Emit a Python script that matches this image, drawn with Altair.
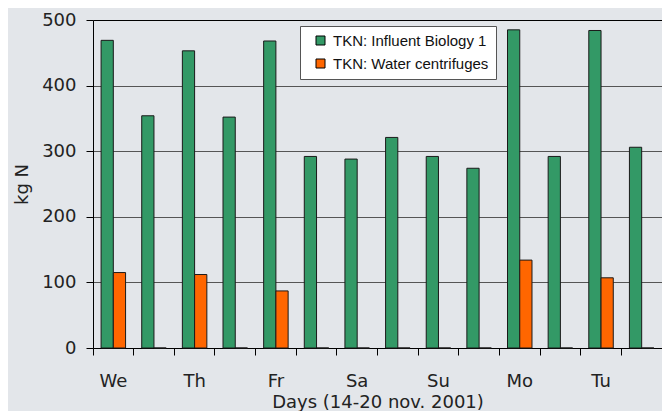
import altair as alt
import pandas as pd

days = ["We", "Th", "Fr", "Sa", "Su", "Mo", "Tu"]
slots = [f"{d}-{i}" for d in days for i in (1, 2)]
influent = [469, 354, 453, 352, 468, 292, 288, 321, 292, 274, 485, 292, 484, 306]
centrifuge = [115, 0, 112, 0, 87, 0, 0, 0, 0, 0, 134, 0, 107, 0]
series = ["TKN: Influent Biology 1", "TKN: Water centrifuges"]
colors = ["#339966", "#FF6600"]

rows = []
for s, a, b in zip(slots, influent, centrifuge):
    rows.append({"slot": s, "series": series[0], "value": a})
    rows.append({"slot": s, "series": series[1], "value": b})
df = pd.DataFrame(rows)

FONT = "DejaVu Sans"

chart = (
    alt.Chart(df)
    .mark_bar(stroke="#1a1a1a", strokeWidth=1)
    .encode(
        x=alt.X(
            "slot:N",
            sort=slots,
            scale=alt.Scale(paddingInner=0, paddingOuter=0),
            axis=alt.Axis(
                title="Days (14-20 nov. 2001)",
                bandPosition=0,
                labelAngle=0,
                labelExpr="slice(datum.label, -1) == '1' ? slice(datum.label, 0, 2) : ''",
                labelOverlap=False,
                domain=False,
                tickSize=7,
                tickColor="black",
                tickWidth=1,
                labelPadding=17,
                labelFont=FONT,
                labelFontSize=18,
                labelColor="#222222",
                titleFont=FONT,
                titleFontSize=18,
                titleFontWeight="normal",
                titleColor="#222222",
                titlePadding=3,
                grid=False,
            ),
        ),
        xOffset=alt.XOffset(
            "series:N", sort=series, scale=alt.Scale(paddingInner=0, paddingOuter=0.66)
        ),
        y=alt.Y(
            "value:Q",
            scale=alt.Scale(domain=[0, 500], nice=False),
            axis=alt.Axis(
                title="kg N",
                values=[0, 100, 200, 300, 400, 500],
                tickSize=7,
                tickColor="black",
                domainColor="black",
                labelPadding=10,
                labelFont=FONT,
                labelFontSize=18,
                labelColor="#222222",
                titleFont=FONT,
                titleFontSize=18,
                titleFontWeight="normal",
                titleColor="#222222",
                titlePadding=10,
                grid=True,
                gridColor=alt.condition(
                    "datum.value == 0 || datum.value == 500",
                    alt.value("black"),
                    alt.value("#555555"),
                ),
            ),
        ),
        color=alt.Color(
            "series:N",
            sort=series,
            scale=alt.Scale(domain=series, range=colors),
            title=None,
            legend=alt.Legend(
                orient="none",
                legendX=207,
                legendY=6,
                fillColor="white",
                strokeColor="#555555",
                padding=7,
                symbolType="square",
                symbolSize=81,
                symbolStrokeColor="black",
                symbolStrokeWidth=1,
                symbolOffset=6,
                labelFont="Liberation Sans",
                labelFontSize=15,
                labelColor="#111111",
                labelOffset=5,
                rowPadding=7,
            ),
        ),
    )
    .properties(
        width=569,
        height=328,
        background="#e3e6ea",
        padding={"left": 5, "top": 3, "right": 0, "bottom": 0},
    )
    .configure_view(strokeWidth=0)
)

chart.save("out.html", embed_options={"renderer": "svg", "actions": False})
